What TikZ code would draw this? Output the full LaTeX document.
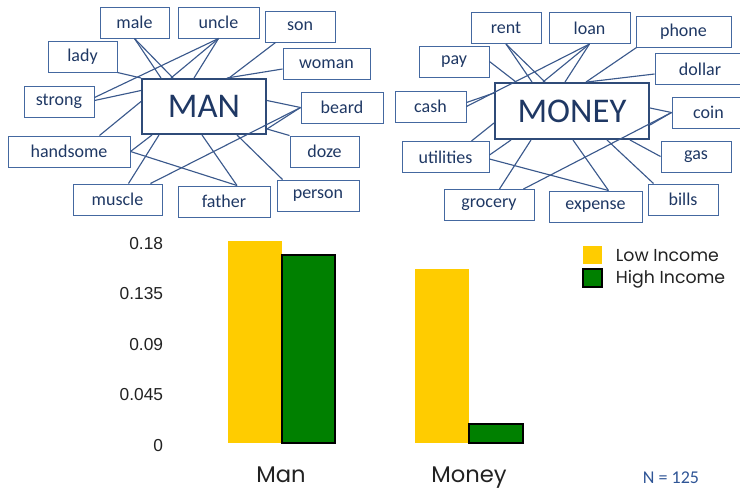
\documentclass[tikz,border=0pt]{standalone}
\usepackage{fontspec}
\setmainfont{Liberation Sans}
\newfontfamily\boxfont{Carlito}
\newfontfamily\chartfont{Poppins}
\usetikzlibrary{calc}

\definecolor{wordblue}{RGB}{31,56,100}
\definecolor{edgeblue}{RGB}{68,104,160}
\definecolor{linkblue}{RGB}{59,89,140}
\definecolor{hubblue}{RGB}{47,75,120}
\definecolor{lowyellow}{RGB}{255,204,0}
\definecolor{highgreen}{RGB}{0,128,0}
\definecolor{ticktext}{RGB}{34,34,34}
\definecolor{countblue}{RGB}{47,85,150}

\tikzset{every picture/.style={line width=0.75pt}}
\tikzset{
  word/.style={draw=edgeblue, fill=white, text=wordblue, font=\boxfont\fontsize{13.5}{16}\selectfont, minimum height=23.25pt, inner sep=0pt},
  hub/.style={draw=hubblue, fill=white, line width=1.5pt, text=wordblue, font=\boxfont\fontsize{26}{30}\selectfont, inner sep=0pt},
  link/.style={draw=linkblue, line width=0.85pt},
  tick/.style={anchor=east, text=ticktext, font=\fontsize{13}{15}\selectfont},
  catlabel/.style={anchor=base, text=ticktext, font=\chartfont\fontsize{17}{20}\selectfont},
  legtext/.style={anchor=west, text=ticktext, font=\chartfont\fontsize{13}{15}\selectfont},
}

\begin{document}
\begin{tikzpicture}[x=0.75pt,y=0.75pt,yscale=-1,xscale=1]
\useasboundingbox (0,0) rectangle (740,490);

%Shape: word boxes round MAN
\node[hub, minimum width=93pt, minimum height=41.25pt] (MAN) at (204,106.5) {MAN};
\node[word, minimum width=51.75pt] (male) at (134.5,22.5) {male};
\node[word, minimum width=60.75pt] (uncle) at (218.5,22.5) {uncle};
\node[word, minimum width=52.5pt] (son) at (300,26.5) {son};
\node[word, minimum width=51.75pt] (lady) at (82.5,56.5) {lady};
\node[word, minimum width=65.25pt] (woman) at (326.5,64) {woman};
\node[word, minimum width=52.5pt] (strong) at (59,101.5) {strong};
\node[word, minimum width=61.5pt] (beard) at (342,107.5) {beard};
\node[word, minimum width=91.5pt] (handsome) at (69,151.5) {handsome};
\node[word, minimum width=51.75pt] (doze) at (324.5,151.5) {doze};
\node[word, minimum width=66.75pt] (muscle) at (117.5,199.5) {muscle};
\node[word, minimum width=69pt] (father) at (224,201.5) {father};
\node[word, minimum width=61.5pt] (person) at (318,195.5) {person};

%Straight Lines: MAN links
\draw[link] (lady.south east) -- (MAN.north west);
\draw[link] (male.south) -- ($(MAN.north west)+(20,0)$);
\draw[link] (male.south) -- ($(MAN.north west)+(32,0)$);
\draw[link] (uncle.south) -- ($(MAN.north west)+(30,0)$);
\draw[link] (uncle.south) -- ($(MAN.north west)+(53,0)$);
\draw[link] (uncle.south) -- ($(strong.east)+(0,-4)$);
\draw[link] ($(son.south west)+(11,0)$) -- ($(MAN.north west)+(88,0)$);
\draw[link] ($(woman.west)+(0,5)$) -- ($(MAN.north west)+(86,0)$);
\draw[link] ($(strong.east)+(0,-1)$) -- ($(MAN.west)+(0,-16)$);
\draw[link] (beard.west) -- ($(MAN.east)+(0,-6)$);
\draw[link] (beard.west) -- ($(MAN.south east)+(0,-6)$);
\draw[link] (beard.west) -- ($(muscle.north east)+(-12,0)$);
\draw[link] (doze.north west) -- ($(MAN.south east)+(0,-6)$);
\draw[link] ($(person.north west)+(6,0)$) -- ($(MAN.south)+(33,0)$);
\draw[link] ($(father.north)+(13,0)$) -- ($(MAN.south)+(-2,0)$);
\draw[link] ($(father.north)+(13,0)$) -- (handsome.east);
\draw[link] ($(muscle.north west)+(56,0)$) -- ($(MAN.south west)+(18,0)$);
\draw[link] ($(handsome.north west)+(92,0)$) -- ($(MAN.west)+(0,-5)$);
\draw[link] (handsome.east) -- ($(MAN.south west)+(11,0)$);

%Shape: word boxes round MONEY
\node[hub, minimum width=115.5pt, minimum height=42pt] (MONEY) at (572,111) {MONEY};
\node[word, minimum width=52.5pt] (rent) at (506,28) {rent};
\node[word, minimum width=60.75pt] (loan) at (589.5,28) {loan};
\node[word, minimum width=71.25pt] (phone) at (683.5,31.5) {phone};
\node[word, minimum width=52.5pt] (pay) at (454,61.5) {pay};
\node[word, minimum width=67.5pt] (dollar) at (700,69) {dollar};
\node[word, minimum width=53.25pt] (cash) at (430.5,106.5) {cash};
\node[word, minimum width=54.75pt] (coin) at (708.5,112.5) {coin};
\node[word, minimum width=65.25pt] (utilities) at (445.5,157) {utilities};
\node[word, minimum width=52.5pt] (gas) at (696,156.5) {gas};
\node[word, minimum width=67.5pt] (grocery) at (489,205) {grocery};
\node[word, minimum width=69.75pt] (expense) at (595.5,206.5) {expense};
\node[word, minimum width=52.5pt] (bills) at (683,199.5) {bills};

%Straight Lines: MONEY links
\draw[link] (pay.east) -- ($(MONEY.north west)+(22,0)$);
\draw[link] (rent.south) -- ($(MONEY.north west)+(38,0)$);
\draw[link] (rent.south) -- ($(MONEY.north west)+(51,0)$);
\draw[link] (loan.south) -- ($(MONEY.north west)+(49,0)$);
\draw[link] (loan.south) -- ($(MONEY.north west)+(71,0)$);
\draw[link] (loan.south) -- (cash.east);
\draw[link] ($(cash.east)+(0,-4)$) -- ($(MONEY.west)+(0,-18)$);
\draw[link] ($(phone.south west)+(1,0)$) -- ($(MONEY.north west)+(92,0)$);
\draw[link] ($(dollar.west)+(0,5)$) -- ($(MONEY.north west)+(93,0)$);
\draw[link] (coin.west) -- ($(MONEY.east)+(0,-3)$);
\draw[link] (coin.west) -- ($(MONEY.east)+(0,14)$);
\draw[link] (coin.west) -- ($(grocery.north east)+(-11,0)$);
\draw[link] (gas.west) -- ($(MONEY.south east)+(-20,0)$);
\draw[link] ($(bills.north west)+(6,0)$) -- ($(MONEY.south)+(35,0)$);
\draw[link] ($(expense.north)+(13,0)$) -- ($(MONEY.south)+(1,0)$);
\draw[link] ($(expense.north)+(13,0)$) -- ($(utilities.east)+(0,2)$);
\draw[link] ($(grocery.north west)+(56,0)$) -- ($(MONEY.south west)+(37,0)$);
\draw[link] ($(utilities.north west)+(70,0)$) -- ($(MONEY.west)+(0,12)$);
\draw[link] ($(utilities.east)+(0,-2)$) -- ($(MONEY.south west)+(17,0)$);

%Shape: bars
\fill[lowyellow] (228,241) rectangle (282,443);
\draw[fill=highgreen, line width=1pt] (282,255) rectangle (335,443);
\fill[lowyellow] (415,269) rectangle (469,443);
\draw[fill=highgreen, line width=1pt] (469,424) rectangle (523,443);

% Text Node: axis
\node[tick] (tick0) at (168,446) {0};
\node[tick] (tick1) at (168,395) {0.045};
\node[tick] (tick2) at (168,344.5) {0.09};
\node[tick] (tick3) at (168,294) {0.135};
\node[tick] (tick4) at (168,243.5) {0.18};
\node[catlabel] (manlab) at (281,482) {Man};
\node[catlabel] (moneylab) at (469,482) {Money};

%Shape: legend
\fill[lowyellow] (583,246) rectangle (602,264);
\draw[fill=highgreen, line width=1pt] (583,269) rectangle (602,287);
\node[legtext] (lowlab) at (611,256) {Low Income};
\node[legtext] (highlab) at (611,279) {High Income};

% Text Node
\node[text=countblue, font=\boxfont\fontsize{13.5}{15}\selectfont] (count) at (671,478) {N = 125};

\end{tikzpicture}
\end{document}
